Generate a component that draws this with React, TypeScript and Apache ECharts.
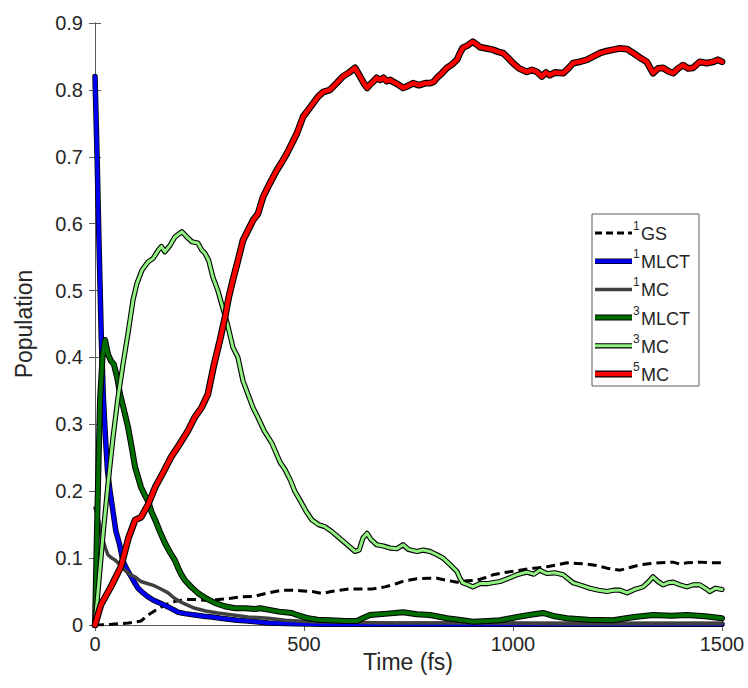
import React, { useEffect, useRef } from "react";
import * as echarts from "echarts";

type P = [number, number];

const xTicks = [0, 500, 1000, 1500];
const yTicks = [0, 0.1, 0.2, 0.3, 0.4, 0.5, 0.6, 0.7, 0.8, 0.9];

const legendNames = [
  { sup: "1", main: "GS" },
  { sup: "1", main: "MLCT" },
  { sup: "1", main: "MC" },
  { sup: "3", main: "MLCT" },
  { sup: "3", main: "MC" },
  { sup: "5", main: "MC" },
];

const gs1: P[] = [
  [0, 0], [40, 0.001], [80, 0.003], [110, 0.006], [127, 0.015], [145, 0.022], [167, 0.03], [190, 0.035],
  [215, 0.038], [240, 0.038], [263, 0.037], [294, 0.038], [325, 0.04], [350, 0.042], [383, 0.043],
  [414, 0.048], [447, 0.052], [470, 0.052], [498, 0.051], [520, 0.05], [543, 0.047], [565, 0.05],
  [586, 0.052], [610, 0.054], [641, 0.054], [665, 0.054], [694, 0.057], [722, 0.062], [740, 0.066],
  [770, 0.069], [800, 0.07], [818, 0.07], [840, 0.067], [866, 0.064], [890, 0.066], [914, 0.067],
  [935, 0.071], [952, 0.075], [985, 0.079], [1017, 0.082], [1050, 0.085], [1081, 0.087], [1105, 0.09],
  [1129, 0.093], [1155, 0.092], [1177, 0.091], [1200, 0.089], [1225, 0.085], [1256, 0.082], [1280, 0.086],
  [1304, 0.09], [1330, 0.092], [1352, 0.093], [1383, 0.094], [1400, 0.091], [1416, 0.093], [1447, 0.094],
  [1470, 0.093], [1500, 0.093],
];

const mlct1: P[] = [
  [0, 0.82], [5, 0.7], [10, 0.56], [15, 0.43], [20, 0.34], [25, 0.28], [30, 0.23], [36, 0.2], [43, 0.17],
  [50, 0.14], [59, 0.12], [67, 0.095], [79, 0.08], [87, 0.072], [96, 0.062], [103, 0.055], [115, 0.048],
  [127, 0.042], [140, 0.037], [158, 0.032], [175, 0.027], [199, 0.019], [215, 0.017], [239, 0.015],
  [260, 0.013], [280, 0.012], [301, 0.01], [340, 0.007], [366, 0.006], [414, 0.003], [480, 0.002],
  [550, 0.001], [700, 0.001], [900, 0.001], [1100, 0.001], [1300, 0.001], [1500, 0.001],
];

const mc1: P[] = [
  [0, 0.175], [8, 0.16], [14, 0.14], [19, 0.127], [25, 0.115], [31, 0.105], [40, 0.1], [48, 0.097],
  [55, 0.093], [62, 0.088], [75, 0.08], [87, 0.074], [96, 0.072], [110, 0.065], [125, 0.062], [136, 0.06],
  [144, 0.058], [160, 0.053], [175, 0.048], [190, 0.04], [206, 0.034], [220, 0.03], [239, 0.025],
  [265, 0.021], [294, 0.018], [330, 0.015], [366, 0.012], [414, 0.01], [455, 0.007], [520, 0.005],
  [615, 0.004], [700, 0.003], [900, 0.003], [1100, 0.002], [1300, 0.002], [1500, 0.002],
];

const mlct3: P[] = [
  [0, 0], [5, 0.15], [12, 0.336], [18, 0.4], [24, 0.426], [31, 0.405], [38, 0.395], [45, 0.39],
  [53, 0.37], [60, 0.345], [68, 0.325], [79, 0.296], [88, 0.265], [96, 0.236], [103, 0.221], [110, 0.206],
  [120, 0.193], [127, 0.185], [136, 0.168], [144, 0.157], [155, 0.14], [167, 0.123], [180, 0.108],
  [191, 0.097], [199, 0.085], [207, 0.075], [215, 0.067], [230, 0.057], [246, 0.048], [265, 0.04],
  [287, 0.033], [310, 0.028], [335, 0.025], [360, 0.025], [383, 0.024], [395, 0.025], [414, 0.023],
  [440, 0.02], [471, 0.018], [483, 0.015], [510, 0.01], [533, 0.008], [562, 0.007], [600, 0.006],
  [627, 0.006], [640, 0.01], [658, 0.015], [700, 0.017], [737, 0.019], [770, 0.016], [801, 0.015],
  [842, 0.01], [880, 0.007], [904, 0.005], [940, 0.006], [969, 0.007], [1010, 0.012], [1050, 0.016],
  [1072, 0.018], [1100, 0.013], [1129, 0.01], [1180, 0.008], [1239, 0.007], [1290, 0.012], [1335, 0.015],
  [1380, 0.014], [1416, 0.015], [1460, 0.013], [1500, 0.01],
];

const mc3: P[] = [
  [0, 0], [10, 0.07], [20, 0.14], [31, 0.21], [43, 0.28], [55, 0.34], [67, 0.39], [79, 0.436], [91, 0.486],
  [100, 0.51], [112, 0.53], [127, 0.543], [139, 0.548], [151, 0.56], [159, 0.566], [167, 0.558],
  [180, 0.568], [191, 0.58], [208, 0.588], [220, 0.58], [232, 0.573], [246, 0.571], [256, 0.56],
  [263, 0.556], [272, 0.545], [282, 0.52], [294, 0.5], [303, 0.48], [316, 0.452], [330, 0.415],
  [342, 0.4], [354, 0.365], [366, 0.345], [378, 0.325], [390, 0.31], [405, 0.29], [423, 0.272],
  [443, 0.243], [455, 0.232], [467, 0.217], [478, 0.2], [490, 0.187], [505, 0.17], [519, 0.157],
  [535, 0.15], [550, 0.147], [566, 0.14], [581, 0.132], [600, 0.122], [622, 0.11], [632, 0.112],
  [641, 0.13], [651, 0.137], [660, 0.128], [674, 0.12], [690, 0.118], [706, 0.115], [722, 0.114],
  [737, 0.12], [750, 0.113], [770, 0.11], [785, 0.112], [801, 0.11], [818, 0.105], [833, 0.1], [850, 0.09],
  [866, 0.08], [873, 0.07], [880, 0.063], [893, 0.06], [904, 0.057], [921, 0.062], [940, 0.062],
  [969, 0.065], [990, 0.07], [1009, 0.075], [1020, 0.077], [1033, 0.079], [1050, 0.076], [1064, 0.082],
  [1081, 0.077], [1100, 0.078], [1120, 0.075], [1144, 0.063], [1160, 0.06], [1184, 0.055], [1205, 0.052],
  [1225, 0.05], [1240, 0.052], [1256, 0.052], [1273, 0.048], [1290, 0.053], [1311, 0.057], [1325, 0.065],
  [1335, 0.072], [1347, 0.065], [1359, 0.06], [1371, 0.063], [1383, 0.064], [1400, 0.06], [1416, 0.057],
  [1431, 0.06], [1447, 0.06], [1460, 0.055], [1471, 0.05], [1484, 0.055], [1500, 0.053],
];

const mc5: P[] = [
  [0, 0], [14, 0.03], [38, 0.057], [62, 0.087], [80, 0.13], [96, 0.157], [110, 0.161], [127, 0.18],
  [144, 0.206], [163, 0.228], [182, 0.251], [202, 0.27], [222, 0.29], [239, 0.311], [255, 0.325],
  [270, 0.345], [285, 0.39], [299, 0.426], [311, 0.46], [320, 0.49], [330, 0.516], [342, 0.545],
  [354, 0.575], [366, 0.59], [378, 0.605], [390, 0.615], [402, 0.64], [418, 0.66], [435, 0.68],
  [447, 0.692], [459, 0.705], [471, 0.72], [483, 0.735], [498, 0.76], [510, 0.77], [522, 0.78],
  [534, 0.79], [546, 0.797], [562, 0.8], [578, 0.81], [593, 0.82], [608, 0.826], [622, 0.833],
  [634, 0.82], [643, 0.81], [651, 0.803], [658, 0.808], [665, 0.812], [674, 0.818], [682, 0.815],
  [690, 0.818], [698, 0.813], [706, 0.815], [713, 0.812], [725, 0.808], [737, 0.803], [746, 0.805],
  [761, 0.81], [775, 0.807], [790, 0.81], [801, 0.81], [810, 0.812], [818, 0.818], [830, 0.825],
  [842, 0.833], [854, 0.838], [866, 0.845], [873, 0.855], [880, 0.863], [890, 0.866], [904, 0.872],
  [913, 0.868], [921, 0.864], [936, 0.862], [952, 0.86], [964, 0.857], [976, 0.855], [988, 0.848],
  [1000, 0.84], [1015, 0.832], [1033, 0.827], [1045, 0.83], [1057, 0.827], [1069, 0.82], [1079, 0.826],
  [1088, 0.822], [1100, 0.826], [1120, 0.825], [1132, 0.832], [1144, 0.84], [1160, 0.842], [1177, 0.845],
  [1192, 0.85], [1208, 0.855], [1224, 0.858], [1239, 0.86], [1256, 0.862], [1273, 0.861], [1288, 0.855],
  [1304, 0.848], [1320, 0.842], [1335, 0.825], [1347, 0.832], [1359, 0.833], [1371, 0.828], [1383, 0.825],
  [1395, 0.832], [1407, 0.837], [1419, 0.832], [1431, 0.833], [1447, 0.842], [1463, 0.84], [1479, 0.842],
  [1490, 0.845], [1500, 0.842],
];

const FONT = "'Liberation Sans', Arial, Helvetica, sans-serif";
const TXT = "#262626";
const AX = "#5e5e5e";

const styles = [
  { data: gs1, color: "#000000", width: 3, outline: 0, dash: true },
  { data: mlct1, color: "#0000f0", width: 4, outline: 5.5, dash: false },
  { data: mc1, color: "#404040", width: 3.5, outline: 0, dash: false },
  { data: mlct3, color: "#006e00", width: 4, outline: 6, dash: false },
  { data: mc3, color: "#90f080", width: 3, outline: 5.2, dash: false },
  { data: mc5, color: "#ff0000", width: 4.5, outline: 6.8, dash: false },
];

export default function App() {
  const ref = useRef<HTMLDivElement>(null);
  useEffect(() => {
    if (!ref.current) return;
    const chart = echarts.init(ref.current, undefined, { renderer: "svg" });

    const series: any[] = [];
    styles.forEach((s, i) => {
      if (s.outline > 0) {
        series.push({
          type: "line",
          data: s.data,
          showSymbol: false,
          silent: true,
          lineStyle: { color: "#000", width: s.outline, join: "round", cap: "round" },
          z: 2,
        });
      }
      series.push({
        type: "line",
        name: legendNames[i].sup + legendNames[i].main,
        data: s.data,
        showSymbol: false,
        silent: true,
        lineStyle: {
          color: s.color,
          width: s.width,
          type: s.dash ? [9, 5] : "solid",
          join: "round",
          cap: s.dash ? "butt" : "round",
        },
        z: 2,
      });
    });

    const lx = 592, ly = 214, lw = 107, lh = 172;
    const graphic: any[] = [
      {
        type: "rect",
        shape: { x: lx, y: ly, width: lw, height: lh },
        style: { fill: "#fff", stroke: AX, lineWidth: 1 },
        z: 10,
      },
    ];
    styles.forEach((s, i) => {
      const cy = 233 + i * 28.2;
      if (s.outline > 0) {
        graphic.push({
          type: "line",
          shape: { x1: 595, y1: cy, x2: 632, y2: cy },
          style: { stroke: "#000", lineWidth: s.outline },
          z: 11,
        });
      }
      graphic.push({
        type: "line",
        shape: { x1: 595, y1: cy, x2: 632, y2: cy },
        style: { stroke: s.color, lineWidth: s.width, lineDash: s.dash ? [7, 4] : null },
        z: 12,
      });
      graphic.push({
        type: "text",
        x: 633,
        y: cy - 7,
        style: { text: legendNames[i].sup, fill: TXT, font: `12px ${FONT}`, textAlign: "left", textVerticalAlign: "middle" },
        z: 12,
      });
      graphic.push({
        type: "text",
        x: 641,
        y: cy + 1,
        style: { text: legendNames[i].main, fill: TXT, font: `18px ${FONT}`, textAlign: "left", textVerticalAlign: "middle" },
        z: 12,
      });
    });
    graphic.push({
      type: "text",
      x: 24,
      y: 324,
      rotation: Math.PI / 2,
      style: { text: "Population", fill: TXT, font: `23px ${FONT}`, textAlign: "center", textVerticalAlign: "middle" },
    });
    graphic.push({
      type: "text",
      x: 408,
      y: 662,
      style: { text: "Time (fs)", fill: TXT, font: `23px ${FONT}`, textAlign: "center", textVerticalAlign: "middle" },
    });

    const axisCommon = {
      axisLine: { show: true, lineStyle: { color: AX, width: 1 } },
      axisTick: { show: true, inside: true, length: 6, lineStyle: { color: AX, width: 1 } },
      splitLine: { show: false },
    };

    chart.setOption({
      animation: false,
      backgroundColor: "#fff",
      grid: { left: 95, right: 26, top: 23, bottom: 63, containLabel: false },
      xAxis: [
        {
          type: "value",
          min: xTicks[0],
          max: xTicks[xTicks.length - 1],
          interval: 500,
          position: "bottom",
          ...axisCommon,
          axisLabel: {
            color: TXT,
            fontSize: 20,
            fontFamily: FONT,
            margin: 9,
            formatter: (v: number) => String(v),
          },
        },
        {
          type: "value",
          min: xTicks[0],
          max: xTicks[xTicks.length - 1],
          interval: 500,
          position: "top",
          ...axisCommon,
          axisLabel: { show: false },
        },
      ],
      yAxis: [
        {
          type: "value",
          min: yTicks[0],
          max: yTicks[yTicks.length - 1],
          interval: 0.1,
          position: "left",
          ...axisCommon,
          axisLabel: {
            color: TXT,
            fontSize: 20,
            fontFamily: FONT,
            margin: 12,
            formatter: (v: number) => String(Number(v.toFixed(1))),
          },
        },
        {
          type: "value",
          min: yTicks[0],
          max: yTicks[yTicks.length - 1],
          interval: 0.1,
          position: "right",
          ...axisCommon,
          axisLabel: { show: false },
        },
      ],
      series,
      graphic,
    });
    return () => chart.dispose();
  }, []);
  return (
    <div
      ref={ref}
      style={{ position: "fixed", left: 0, top: 0, width: 748, height: 688, background: "#fff" }}
    />
  );
}
